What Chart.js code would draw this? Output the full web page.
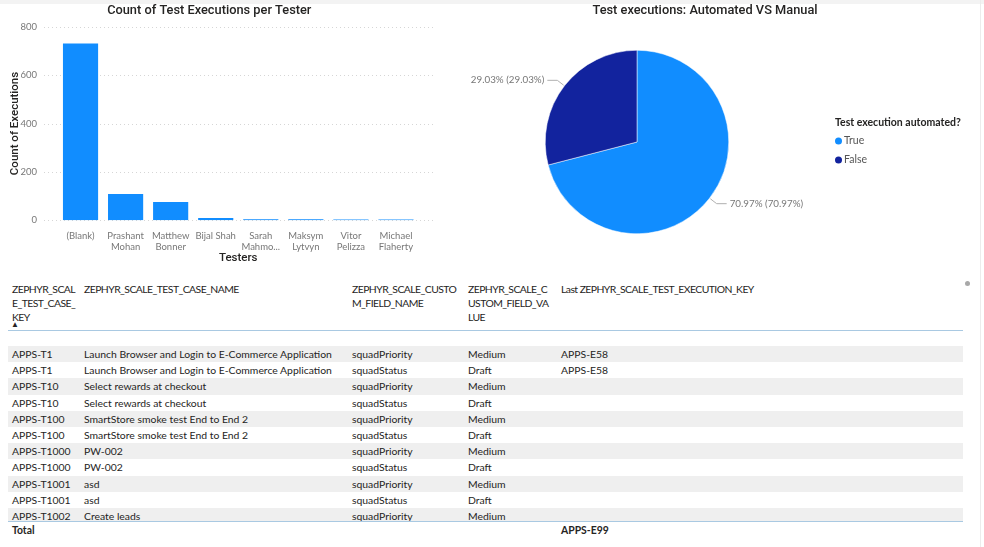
<!DOCTYPE html>
<html>
<head>
<meta charset="utf-8">
<script src="https://cdn.jsdelivr.net/npm/chart.js@4.4.0/dist/chart.umd.min.js"></script>
<style>
  body { margin: 0; width: 984px; height: 547px; overflow: hidden; background: #fff; position: relative;
         font-family: "Segoe UI", Lato, sans-serif; color: #252423; }
  .topband { position: absolute; left: 0; top: 0; width: 984px; height: 4px; background: #f3f3f3; }
  .rightline { position: absolute; left: 980px; top: 0; width: 1px; height: 547px; background: #ececec; }
  #barWrap { position: absolute; left: 0; top: 0; width: 440px; height: 270px; }
  #pieWrap { position: absolute; left: 428px; top: 0; width: 552px; height: 270px; }
  .tbl { position: absolute; left: 0; top: 0; font-size: 10.4px; }
  .hd { position: absolute; top: 282px; line-height: 14px; white-space: nowrap; letter-spacing: -0.55px; }
  .sort { position: absolute; left: 11px; top: 319px; font-size: 8px; line-height: 10px; }
  .hline { position: absolute; left: 8px; width: 955px; height: 1px; background: #a9c9e2; }
  .body { position: absolute; left: 8px; top: 346px; width: 955px; height: 175px; overflow: hidden; }
  .row { position: relative; height: 16.2px; line-height: 16.2px; white-space: nowrap; }
  .row.odd { background: #efefef; }
  .row span, .tot span { position: absolute; top: 0; }
  .tot { position: absolute; left: 8px; top: 522px; width: 955px; height: 16px; line-height: 16px; font-weight: bold; }
  .scrolldot { position: absolute; left: 965px; top: 281px; width: 5px; height: 5px; border-radius: 50%; background: #a8a8a8; }
</style>
</head>
<body>
<div class="topband"></div>
<div class="rightline"></div>
<div id="barWrap"><canvas id="barChart"></canvas></div>
<div id="pieWrap"><canvas id="pieChart"></canvas></div>
<div class="tbl" id="tbl"></div>
<div class="scrolldot"></div>

<script>
// ---------- bar chart data ----------
const testers = [["(Blank)"], ["Prashant", "Mohan"], ["Matthew", "Bonner"], ["Bijal Shah"],
                 ["Sarah", "Mahmo..."], ["Maksym", "Lytvyn"], ["Vitor", "Pelizza"], ["Michael", "Flaherty"]];
const executions = [731, 109, 76, 10, 4, 4, 3, 3];
const yTicks = [0, 200, 400, 600, 800];

// ---------- pie chart data ----------
const automatedLabels = ["True", "False"];
const automatedShare = [70.97, 29.03];
const automatedColors = ["#118DFF", "#12239E"];

// ---------- table data ----------
const headers = [
  ["ZEPHYR_SCAL", "E_TEST_CASE_", "KEY"],
  ["ZEPHYR_SCALE_TEST_CASE_NAME"],
  ["ZEPHYR_SCALE_CUSTO", "M_FIELD_NAME"],
  ["ZEPHYR_SCALE_C", "USTOM_FIELD_VA", "LUE"],
  ["Last ZEPHYR_SCALE_TEST_EXECUTION_KEY"]
];
const colX = [4, 76, 344, 460, 553];
const caseKeys = ["APPS-T1", "APPS-T1", "APPS-T10", "APPS-T10", "APPS-T100", "APPS-T100",
                  "APPS-T1000", "APPS-T1000", "APPS-T1001", "APPS-T1001", "APPS-T1002"];
const caseNames = ["Launch Browser and Login to E-Commerce Application", "Launch Browser and Login to E-Commerce Application",
                   "Select rewards at checkout", "Select rewards at checkout",
                   "SmartStore smoke test End to End 2", "SmartStore smoke test End to End 2",
                   "PW-002", "PW-002", "asd", "asd", "Create leads"];
const fieldNames = ["squadPriority", "squadStatus", "squadPriority", "squadStatus", "squadPriority", "squadStatus",
                    "squadPriority", "squadStatus", "squadPriority", "squadStatus", "squadPriority"];
const fieldValues = ["Medium", "Draft", "Medium", "Draft", "Medium", "Draft",
                     "Medium", "Draft", "Medium", "Draft", "Medium"];
const lastExecKeys = ["APPS-E58", "APPS-E58", "", "", "", "", "", "", "", "", ""];
const totalExecKey = "APPS-E99";

/* =========================
   TABLE
========================= */
function montarTabela() {
  const tbl = document.getElementById("tbl");
  let html = "";
  headers.forEach((h, i) => {
    html += `<div class="hd" style="left:${colX[i] + 8}px">${h.join("<br>")}</div>`;
  });
  html += `<div class="sort">&#9650;</div>`;
  html += `<div class="hline" style="top:330px"></div>`;
  html += `<div class="body">`;
  caseKeys.forEach((k, i) => {
    const cells = [k, caseNames[i], fieldNames[i], fieldValues[i], lastExecKeys[i]];
    html += `<div class="row ${i % 2 === 0 ? "odd" : ""}">` +
      cells.map((c, j) => `<span style="left:${colX[j]}px">${c}</span>`).join("") + `</div>`;
  });
  html += `</div>`;
  html += `<div class="hline" style="top:521px"></div>`;
  html += `<div class="tot"><span style="left:${colX[0]}px">Total</span><span style="left:${colX[4]}px">${totalExecKey}</span></div>`;
  tbl.innerHTML = html;
}
montarTabela();

/* =========================
   BAR CHART
========================= */
const gradePontilhada = {
  id: "gradePontilhada",
  beforeDatasetsDraw(chart) {
    const { ctx, scales: { y } } = chart;
    ctx.save();
    ctx.strokeStyle = "#d6d6d6";
    ctx.lineWidth = 1;
    ctx.setLineDash([1, 3]);
    yTicks.forEach(v => {
      const py = Math.round(y.getPixelForValue(v)) + 0.5;
      ctx.beginPath();
      ctx.moveTo(44, py);
      ctx.lineTo(433, py);
      ctx.stroke();
    });
    ctx.restore();
  }
};

new Chart(document.getElementById("barChart"), {
  type: "bar",
  data: {
    labels: testers,
    datasets: [{
      label: "Count of Executions",
      data: executions,
      backgroundColor: "#118DFF",
      barPercentage: 0.78,
      categoryPercentage: 1
    }]
  },
  options: {
    responsive: true,
    maintainAspectRatio: false,
    animation: false,
    layout: { padding: { left: 0, right: 21.5, top: 0, bottom: 0 } },
    plugins: {
      legend: { display: false },
      tooltip: { enabled: false },
      title: {
        display: true,
        text: "Count of Test Executions per Tester",
        color: "#252423",
        font: { family: "Roboto", size: 12.8, weight: "500" },
        padding: { top: 2, bottom: 8 }
      }
    },
    scales: {
      x: {
        grid: { display: false, drawTicks: false },
        border: { display: false },
        ticks: { color: "#777", font: { family: "Lato", size: 9.5 }, padding: 9.5, maxRotation: 0, autoSkip: false },
        title: { display: true, text: "Testers", color: "#252423", font: { family: "Roboto", size: 11.5, weight: "500" }, padding: { top: 0, bottom: 5 } },
        afterFit: s => { s.height = 49.7; }
      },
      y: {
        min: 0, max: 800,
        grid: { display: false, drawTicks: false },
        border: { display: false },
        ticks: { stepSize: 200, color: "#777", font: { family: "Lato", size: 9.5 }, padding: 21 },
        title: { display: true, text: "Count of Executions", color: "#252423", font: { family: "Roboto", size: 11.5, weight: "500" }, padding: { top: 8, bottom: 0 } },
        afterFit: s => { s.width = 58; }
      }
    }
  },
  plugins: [gradePontilhada]
});

/* =========================
   PIE CHART
========================= */
const rotulosPizza = {
  id: "rotulosPizza",
  afterDatasetsDraw(chart) {
    const { ctx } = chart;
    const meta = chart.getDatasetMeta(0);
    ctx.save();
    // title
    ctx.textBaseline = "middle";
    ctx.textAlign = "center";
    ctx.fillStyle = "#252423";
    ctx.font = "500 12.8px Roboto";
    ctx.fillText("Test executions: Automated VS Manual", 705 - 428, 11);

    ctx.font = "9.8px Lato";
    meta.data.forEach((arc, i) => {
      const mid = (arc.startAngle + arc.endAngle) / 2;
      const r = arc.outerRadius;
      const cos = Math.cos(mid), sin = Math.sin(mid);
      const x0 = arc.x + cos * (r + 1), y0 = arc.y + sin * (r + 1);
      const x1 = arc.x + cos * (r + 9), y1 = arc.y + sin * (r + 9);
      const dir = cos >= 0 ? 1 : -1;
      const x2 = x1 + dir * 10;
      ctx.strokeStyle = "#b0b0b0";
      ctx.lineWidth = 1;
      ctx.beginPath();
      ctx.moveTo(x0, y0);
      ctx.lineTo(x1, y1);
      ctx.lineTo(x2, y1);
      ctx.stroke();
      const v = automatedShare[i].toFixed(2) + "%";
      ctx.fillStyle = "#777";
      ctx.textAlign = dir > 0 ? "left" : "right";
      ctx.fillText(`${v} (${v})`, x2 + dir * 3, y1);
    });
    // legend
    const lx = 407;
    ctx.textAlign = "left";
    ctx.fillStyle = "#252423";
    ctx.font = "bold 10.5px Lato";
    ctx.fillText("Test execution automated?", lx, 123);
    automatedLabels.forEach((lab, i) => {
      const ly = 141 + i * 19;
      ctx.fillStyle = automatedColors[i];
      ctx.beginPath();
      ctx.arc(lx + 3.5, ly, 3.5, 0, Math.PI * 2);
      ctx.fill();
      ctx.fillStyle = "#555";
      ctx.font = "10.5px Lato";
      ctx.fillText(lab, lx + 9, ly);
    });
    ctx.restore();
  }
};

new Chart(document.getElementById("pieChart"), {
  type: "pie",
  data: {
    labels: automatedLabels,
    datasets: [{
      data: automatedShare,
      backgroundColor: automatedColors,
      borderColor: "#ffffff",
      borderWidth: 0.5
    }]
  },
  options: {
    responsive: true,
    maintainAspectRatio: false,
    animation: false,
    layout: { padding: { left: 117, right: 251, top: 50, bottom: 36 } },
    plugins: {
      legend: { display: false },
      tooltip: { enabled: false },
      title: { display: false }
    }
  },
  plugins: [rotulosPizza]
});
</script>
</body>
</html>
